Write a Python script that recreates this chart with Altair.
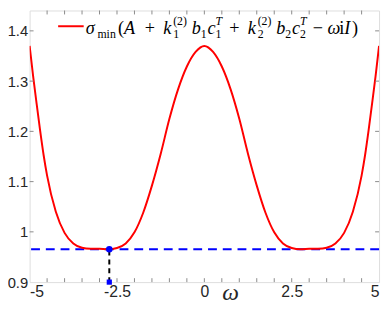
import altair as alt
import pandas as pd

# ---- data ----
omega = [-5.0, -4.9, -4.8, -4.7, -4.6, -4.5, -4.25, -4.0, -3.75, -3.5, -3.25, -3.0,
         -2.75, -2.5, -2.25, -2.0, -1.75, -1.5, -1.25, -1.0, -0.75, -0.5, -0.25, 0.0,
         0.25, 0.5, 0.75, 1.0, 1.25, 1.5, 1.75, 2.0, 2.25, 2.5, 2.75, 3.0, 3.25, 3.5,
         3.75, 4.0, 4.25, 4.5, 4.6, 4.7, 4.8, 4.9, 5.0]
sigma = [1.370, 1.310, 1.255, 1.202, 1.153, 1.112, 1.040, 0.998, 0.977, 0.9685, 0.9665, 0.9662,
         0.9655, 0.968, 0.977, 0.999, 1.038, 1.092, 1.155, 1.225, 1.284, 1.329, 1.358, 1.370,
         1.358, 1.329, 1.284, 1.225, 1.155, 1.092, 1.038, 0.999, 0.977, 0.968, 0.9655, 0.9662, 0.9665, 0.9685,
         0.977, 0.998, 1.040, 1.112, 1.153, 1.202, 1.255, 1.310, 1.370]
omega_star = [-2.72]
sigma_star = [0.9655]
y_floor = [0.9]

x_major = [-5, -2.5, 0, 2.5, 5]
x_minor = [-4.5, -4, -3.5, -3, -2.5, -2, -1.5, -1, -0.5, 0, 0.5, 1, 1.5, 2, 2.5, 3, 3.5, 4, 4.5]
y_major = [0.9, 1.0, 1.1, 1.2, 1.3, 1.4]

W, H = 355.5, 276.3
XDOM = [-5, 5]
YDOM = [0.9, 1.4405]
AX = "#8a8a8a"

curve = pd.DataFrame({"w": omega, "s": sigma})
star = pd.DataFrame({"w": omega_star, "s": sigma_star, "f": y_floor})

xs = alt.Scale(domain=XDOM, nice=False, zero=False)
ys = alt.Scale(domain=YDOM, nice=False, zero=False)

xaxis = alt.Axis(values=x_major, labelExpr="datum.value", tickSize=0, domain=False, grid=False,
                 labelPadding=2, labelFont="Liberation Sans", labelFontSize=16, labelColor="#262626",
                 title=None)
yaxis = alt.Axis(values=y_major, labelExpr="datum.value", tickSize=0, domain=False, grid=False,
                 labelPadding=2, labelFont="Liberation Sans", labelFontSize=15, labelColor="#262626",
                 title=None)

line = alt.Chart(curve).mark_line(color="#ff0000", strokeWidth=2, interpolate="monotone", clip=True).encode(
    x=alt.X("w:Q", scale=xs, axis=xaxis),
    y=alt.Y("s:Q", scale=ys, axis=yaxis),
)

hline = alt.Chart(star).mark_rule(color="#0000ff", strokeWidth=2, strokeDash=[9, 6]).encode(
    y=alt.Y("s:Q", scale=ys)
)
vline = alt.Chart(star).mark_rule(color="#000000", strokeWidth=2, strokeDash=[5, 4]).encode(
    x=alt.X("w:Q", scale=xs), y=alt.Y("f:Q", scale=ys), y2="s:Q"
)
pt_top = alt.Chart(star).mark_point(shape="circle", filled=True, color="#0000ff", size=45, opacity=1).encode(
    x=alt.X("w:Q", scale=xs), y=alt.Y("s:Q", scale=ys)
)
pt_bot = alt.Chart(star).mark_point(shape="square", filled=True, color="#0000ff", size=28, opacity=1).encode(
    x=alt.X("w:Q", scale=xs), y=alt.Y("f:Q", scale=ys)
)

# inward ticks
tx = pd.DataFrame({"t": x_minor})
ty = pd.DataFrame({"t": y_major[1:]})
tick_b = alt.Chart(tx).mark_rule(color=AX, strokeWidth=1).encode(
    x=alt.X("t:Q", scale=xs), y=alt.value(H), y2=alt.value(H - 4))
tick_t = alt.Chart(tx).mark_rule(color=AX, strokeWidth=1).encode(
    x=alt.X("t:Q", scale=xs), y=alt.value(0), y2=alt.value(4))
tick_l = alt.Chart(ty).mark_rule(color=AX, strokeWidth=1).encode(
    y=alt.Y("t:Q", scale=ys), x=alt.value(0), x2=alt.value(4))
tick_r = alt.Chart(ty).mark_rule(color=AX, strokeWidth=1).encode(
    y=alt.Y("t:Q", scale=ys), x=alt.value(W), x2=alt.value(W - 4))

# legend
one = pd.DataFrame({"d": [0]})
leg_line = alt.Chart(one).mark_rule(color="#ff0000", strokeWidth=2).encode(
    x=alt.value(29), x2=alt.value(55), y=alt.value(16))

OX, OY = 30.0, 8.0
def txt(s, px, py, size=18.5, italic=False, font="Liberation Serif", color="#000000"):
    return alt.Chart(one).mark_text(text=s, align="left", baseline="alphabetic", font=font,
                                    fontSize=size, fontStyle="italic" if italic else "normal",
                                    color=color).encode(
        x=alt.value(px - OX), y=alt.value(py - OY))

M, S = 18.5, 12
B, SUB, SUP = 31.5, 35.5, 22.5
pieces = [
    ("σ", 87, B, M, True), ("min", 99, SUB, S, False), ("(", 120, B, M, False),
    ("A", 126, B, M, True), ("+", 147, B, M, False), ("k", 166, B, M, True),
    ("(2)", 176, SUP, S, False), ("1", 176, SUB, S, False), ("b", 195, B, M, True),
    ("1", 204, SUB, S, False), ("c", 211, B, M, True), ("T", 219, SUP, S, True),
    ("1", 219, SUB, S, False), ("+", 233, B, M, False), ("k", 252, B, M, True),
    ("(2)", 262, SUP, S, False), ("2", 262, SUB, S, False), ("b", 281, B, M, True),
    ("2", 290, SUB, S, False), ("c", 297, B, M, True), ("T", 305, SUP, S, True),
    ("2", 305, SUB, S, False), ("−", 318, B, M, False), ("ω", 333, B, M, True),
    ("i", 345, B, M, False), ("I", 350, B, M, True), (")", 358, B, M, False),
]
texts = [txt(s, px, py, sz, it) for (s, px, py, sz, it) in pieces]
# x-axis title (omega), placed as low as the page allows
xtitle = txt("ω", 226, 302, 24, True, color="#262626")

chart = alt.layer(hline, line, vline, pt_top, pt_bot, tick_b, tick_t, tick_l, tick_r, leg_line,
                  xtitle, *texts).properties(
    width=W, height=H,
    autosize=alt.AutoSizeParams(type="none"),
    padding={"left": 22, "top": 0, "right": 4, "bottom": 19},
).configure_view(stroke=AX, strokeWidth=1).configure(background="white")

chart.save("out.html", embed_options={"renderer": "svg", "actions": False})
